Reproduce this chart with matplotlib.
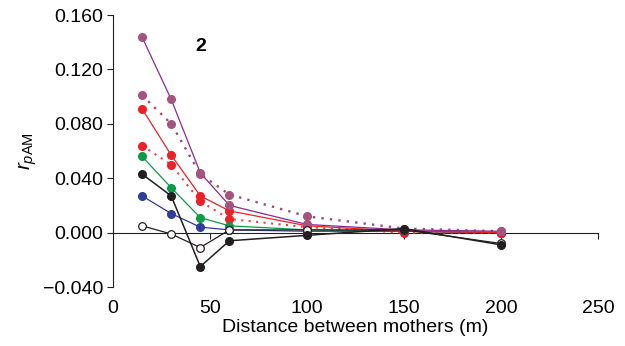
import numpy as np
import matplotlib.pyplot as plt

plt.rcParams['font.family'] = ['Liberation Sans', 'DejaVu Sans']
plt.rcParams['mathtext.fontset'] = 'custom'
plt.rcParams['mathtext.rm'] = 'Liberation Sans'
plt.rcParams['mathtext.it'] = 'Liberation Sans:italic'

# distances between mothers (m)
dist = [15, 30, 45, 60, 100, 150, 200]

purple_solid = [0.1437, 0.098, 0.044, 0.020, 0.006, 0.002, 0.001]
mauve_dotted = [0.101, 0.080, 0.043, 0.028, 0.012, 0.003, 0.001]
red_solid = [0.091, 0.057, 0.027, 0.016, 0.005, 0.001, 0.000]
red_dotted = [0.064, 0.050, 0.023, 0.010, 0.004, 0.000, 0.000]
green = [0.056, 0.033, 0.011, 0.005, 0.002, 0.001, 0.000]
blue = [0.027, 0.014, 0.004, 0.002, 0.001, 0.001, 0.000]
black = [0.043, 0.027, -0.025, -0.006, -0.002, 0.003, -0.009]
open_pts = [0.005, -0.001, -0.011, 0.002, 0.002, 0.002, -0.008]

xticks = [0, 50, 100, 150, 200, 250]
yticks = [-0.04, 0.0, 0.04, 0.08, 0.12, 0.16]

fig = plt.figure(figsize=(6.25, 3.46), dpi=100)
ax = fig.add_axes([0.1808, 0.1705, 0.776, 0.7861])

ms = 5.5
lw = 0.9
dots = (0, (1, 2.6))
ax.plot(dist, red_solid, lw=lw, color='#ec2027',
        marker='o', ms=ms, mfc='#ec2027', mec='#ec2027', zorder=4)
ax.plot(dist, red_dotted, ls=dots, lw=1.5, color='#ee3e44',
        marker='o', ms=ms, mfc='#ec2027', mec='#ec2027', zorder=3)
ax.plot(dist, green, lw=lw, color='#0a9b48',
        marker='o', ms=ms, mfc='#0a9b48', mec='#0a9b48', zorder=3)
ax.plot(dist, blue, lw=lw, color='#2e3d96',
        marker='o', ms=ms, mfc='#2e3d96', mec='#2e3d96', zorder=3)
ax.plot(dist, mauve_dotted, ls=dots, lw=1.7, color='#9c4a7c',
        marker='o', ms=ms, mfc='#a4547f', mec='#a4547f', zorder=5)
ax.plot(dist, purple_solid, lw=lw, color='#8a2b91',
        marker='o', ms=ms, mfc='#a4547f', mec='#a4547f', zorder=5)
ax.plot(dist, open_pts, lw=lw, color='#231f20',
        marker='o', ms=ms, mfc='white', mec='#231f20', mew=0.9, zorder=6)
ax.plot(dist, black, lw=1.1, color='#231f20',
        marker='o', ms=ms, mfc='#231f20', mec='#231f20', zorder=7)

ax.set_xlim(0, 250)
ax.set_ylim(-0.04, 0.16)

ax.spines['top'].set_visible(False)
ax.spines['right'].set_visible(False)
ax.spines['bottom'].set_position(('data', 0))
ax.spines['left'].set_color('#231f20')
ax.spines['bottom'].set_color('#231f20')

ax.set_yticks(yticks)
ax.set_yticklabels(['\u22120.040', '0.000', '0.040', '0.080', '0.120', '0.160'])
ax.tick_params(axis='y', direction='out', length=4, labelsize=14, pad=3,
               colors='#231f20', labelcolor='black')
ax.set_xticks(xticks[1:])
ax.tick_params(axis='x', direction='out', length=4, labelbottom=False,
               colors='#231f20')

secax = ax.secondary_xaxis('bottom')
secax.set_xticks(xticks)
secax.spines['bottom'].set_visible(False)
secax.tick_params(axis='x', length=0, labelsize=14, pad=9)
secax.set_xlabel('Distance between mothers (m)', fontsize=14, labelpad=2)

ax.set_ylabel(r'$r_{p\mathrm{AM}}$', fontsize=15, labelpad=3)
ax.text(0.18, 0.886, '2', transform=ax.transAxes, fontsize=14,
        fontweight='bold', ha='center', va='center')

fig.savefig('out.png', dpi=100)
